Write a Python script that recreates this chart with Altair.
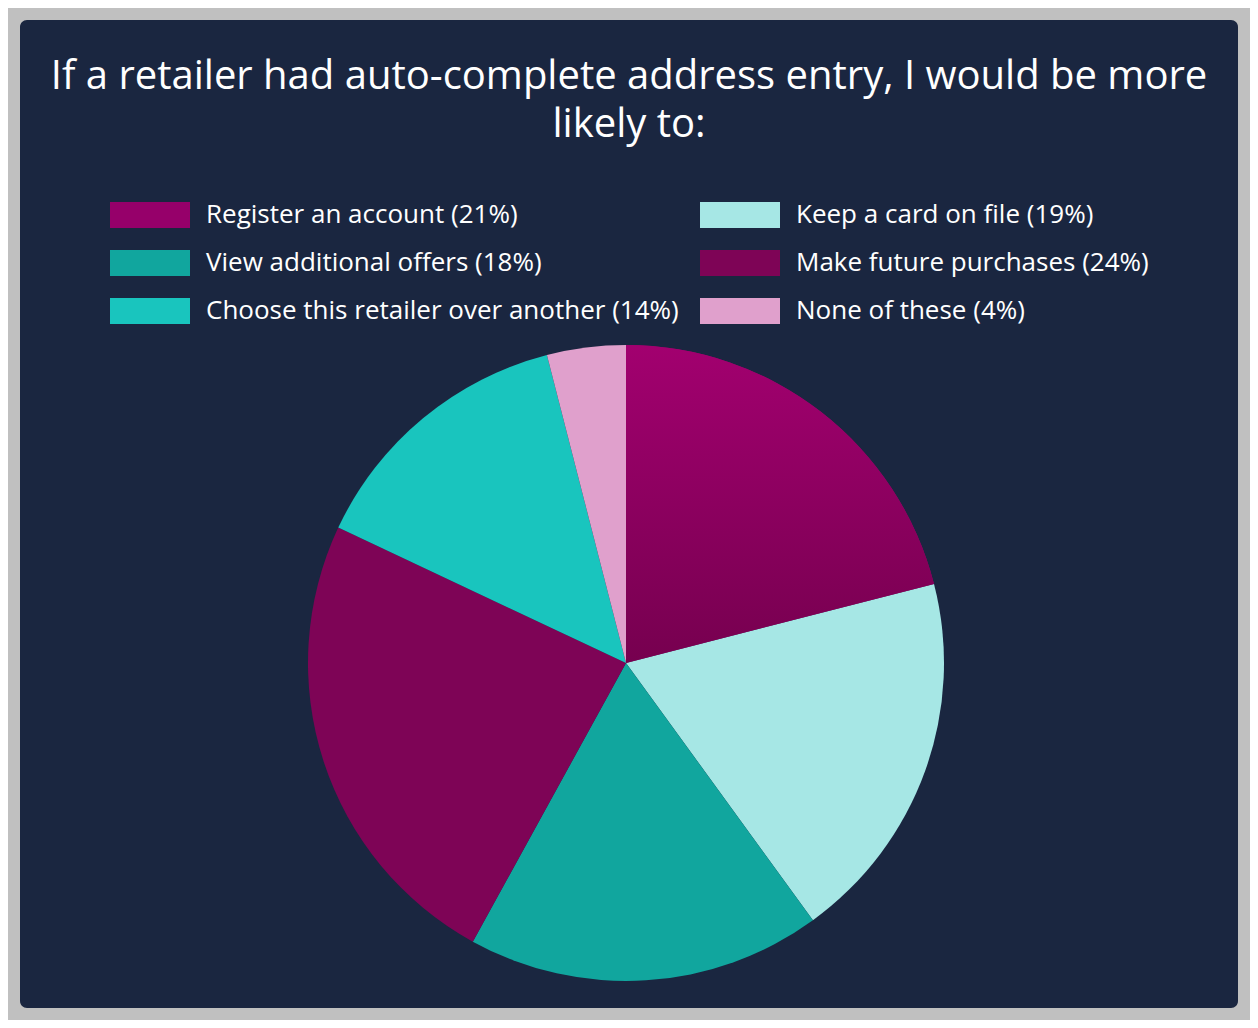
import altair as alt
import pandas as pd

# survey answers, in pie order (clockwise from 12 o'clock)
answers = ["Register an account", "Keep a card on file", "View additional offers",
           "Make future purchases", "Choose this retailer over another", "None of these"]
shares = [21, 19, 18, 24, 14, 4]
colors = ["#96006a", "#a6e7e5", "#11a69e", "#7e0456", "#19c5be", "#e0a0cc"]

title_lines = ["If a retailer had auto-complete address entry, I would be more",
               "likely to:"]

labels = [f"{a} ({s}%)" for a, s in zip(answers, shares)]
df = pd.DataFrame({"answer": labels, "share": shares, "rank": list(range(len(shares)))})

# legend fills column by column, so list the entries in that order
legend_order = [0, 2, 4, 1, 3, 5]
legend_domain = [labels[i] for i in legend_order]
legend_range = [colors[i] for i in legend_order]

base = alt.Chart(df).transform_window(
    cum="sum(share)", sort=[alt.SortField("rank")], frame=[None, 0]
).transform_calculate(start="datum.cum - datum.share")

theta_scale = alt.Scale(domain=[0, 100])
cx, cy, r = 606, 643, 318
font = "Open Sans"

pie = base.mark_arc(outerRadius=r).encode(
    theta=alt.Theta("start:Q", scale=theta_scale),
    theta2="cum:Q",
    x=alt.value(cx),
    y=alt.value(cy),
    color=alt.Color(
        "answer:N",
        scale=alt.Scale(domain=legend_domain, range=legend_range),
        legend=alt.Legend(
            title=None,
            orient="none",
            legendX=90,
            legendY=155,
            columns=2,
            gridAlign="none",
            columnPadding=21,
            rowPadding=-5,
            padding=0,
            symbolType="M-1,-0.325H1V0.325H-1Z",
            symbolSize=6400,
            symbolStrokeWidth=0,
            symbolOpacity=1,
            labelOffset=16,
            labelFont=font,
            labelFontSize=26,
            labelColor="white",
            labelLimit=800,
        ),
    ),
)

# the first slice has a soft top-to-bottom shade
shade = base.transform_filter("datum.rank == 0").mark_arc(
    outerRadius=r,
    fill=alt.Gradient(
        gradient="linear",
        x1=0, x2=0, y1=0, y2=1,
        stops=[alt.GradientStop(color="#a2006f", offset=0),
               alt.GradientStop(color="#76004f", offset=1)],
    ),
).encode(
    theta=alt.Theta("start:Q", scale=theta_scale),
    theta2="cum:Q",
    x=alt.value(cx),
    y=alt.value(cy),
)

chart = alt.layer(pie, shade).properties(
    width=1218,
    height=988,
    autosize="none",
    padding={"left": 12, "top": 12, "right": 12, "bottom": 12},
    background="#c0c0c0",
    title=alt.Title(
        text=title_lines,
        color="white",
        font=font,
        fontSize=40,
        fontWeight="normal",
        anchor="middle",
        baseline="top",
        offset=0,
        dy=125,
        lineHeight=48,
    ),
).configure_view(fill="#1a2640", cornerRadius=7, strokeWidth=0)

chart.save("out.html", embed_options={"renderer": "svg", "actions": False})
